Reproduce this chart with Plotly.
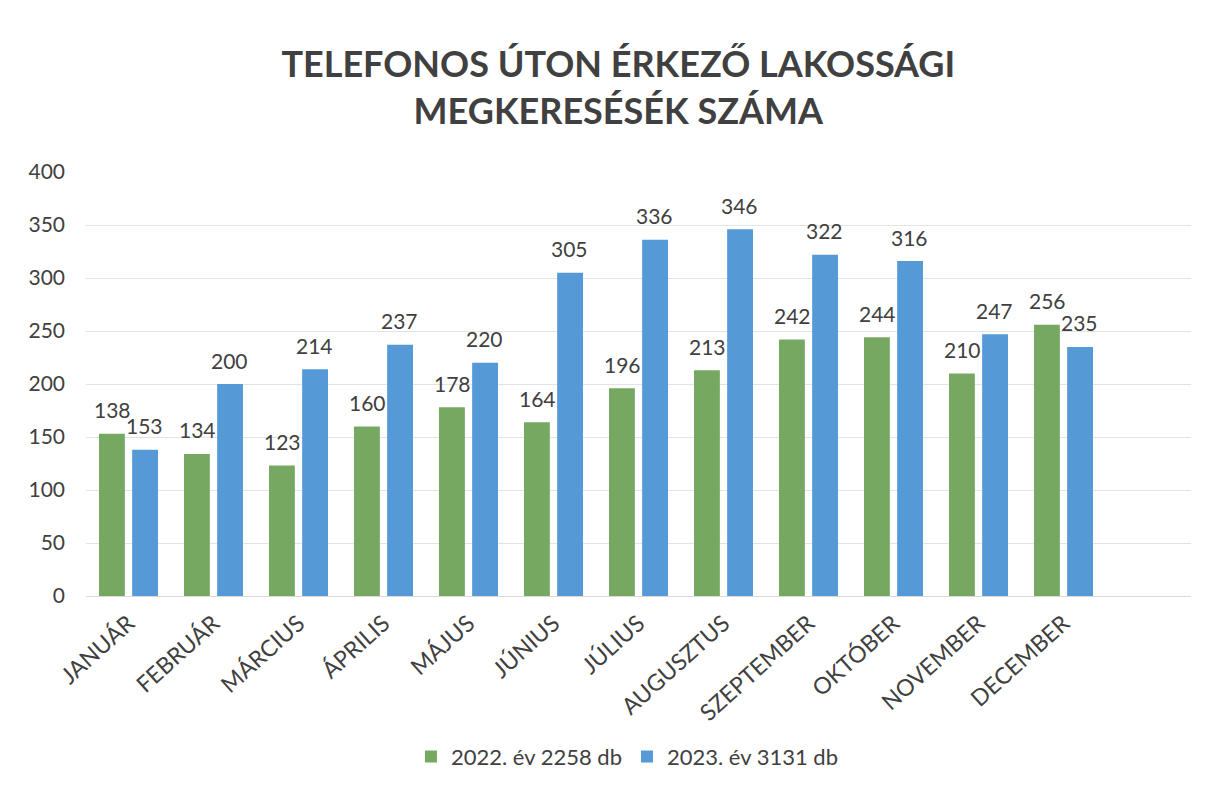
import plotly.graph_objects as go

months = ["JANUÁR", "FEBRUÁR", "MÁRCIUS", "ÁPRILIS", "MÁJUS", "JÚNIUS", "JÚLIUS",
          "AUGUSZTUS", "SZEPTEMBER", "OKTÓBER", "NOVEMBER", "DECEMBER"]
# bar heights as drawn in the picture
heights_2022 = [153, 134, 123, 160, 178, 164, 196, 213, 242, 244, 210, 256]
heights_2023 = [138, 200, 214, 237, 220, 305, 336, 346, 322, 316, 247, 235]
# data labels as printed in the picture
labels_2022 = [138, 134, 123, 160, 178, 164, 196, 213, 242, 244, 210, 256]
labels_2023 = [153, 200, 214, 237, 220, 305, 336, 346, 322, 316, 247, 235]
name_2022 = "2022. év 2258 db"
name_2023 = "2023. év 3131 db"
yticks = [0, 50, 100, 150, 200, 250, 300, 350, 400]

GREEN = "#77a862"
BLUE = "#5599d6"
TXT = "#404040"
FONT = "Lato"

fig = go.Figure()
fig.add_trace(go.Bar(x=months, y=heights_2022, name=name_2022,
                     marker=dict(color=GREEN, line=dict(width=0))))
fig.add_trace(go.Bar(x=months, y=heights_2023, name=name_2023,
                     marker=dict(color=BLUE, line=dict(width=0))))

annotations = []
for m, h, lab in zip(months, heights_2022, labels_2022):
    annotations.append(dict(x=m, y=h, text=str(lab), showarrow=False, xshift=-16,
                            yshift=24, font=dict(size=21, color=TXT, family=FONT)))
for m, h, lab in zip(months, heights_2023, labels_2023):
    annotations.append(dict(x=m, y=h, text=str(lab), showarrow=False, xshift=16,
                            yshift=24, font=dict(size=21, color=TXT, family=FONT)))

fig.update_layout(
    width=1210, height=789,
    paper_bgcolor="white", plot_bgcolor="white",
    margin=dict(l=86, r=19, t=172, b=192),
    barmode="group", bargap=0.22, bargroupgap=0.22,
    title=dict(text="<b>TELEFONOS ÚTON ÉRKEZŐ LAKOSSÁGI<br>MEGKERESÉSÉK SZÁMA</b>",
               x=0.511, xanchor="center", y=0.902, yanchor="top",
               font=dict(family=FONT, size=36, color=TXT)),
    font=dict(family=FONT, color=TXT),
    xaxis=dict(type="category", range=[-0.5, 12.5], tickangle=-42,
               tickfont=dict(size=23, color=TXT), showgrid=False,
               showline=True, linecolor="#d9d9d9", ticks="", ticklabelstandoff=4),
    yaxis=dict(range=[0, 400], tickvals=yticks, tickfont=dict(size=21, color=TXT),
               showgrid=True, gridcolor="#e3e3e3", gridwidth=1, zeroline=False,
               ticks="", ticklabelstandoff=20),
    legend=dict(orientation="h", x=0.49, xanchor="center", y=-0.376, yanchor="middle",
                font=dict(size=22, color=TXT), itemwidth=30, traceorder="normal"),
    annotations=annotations,
)

fig.write_html("out.html")
